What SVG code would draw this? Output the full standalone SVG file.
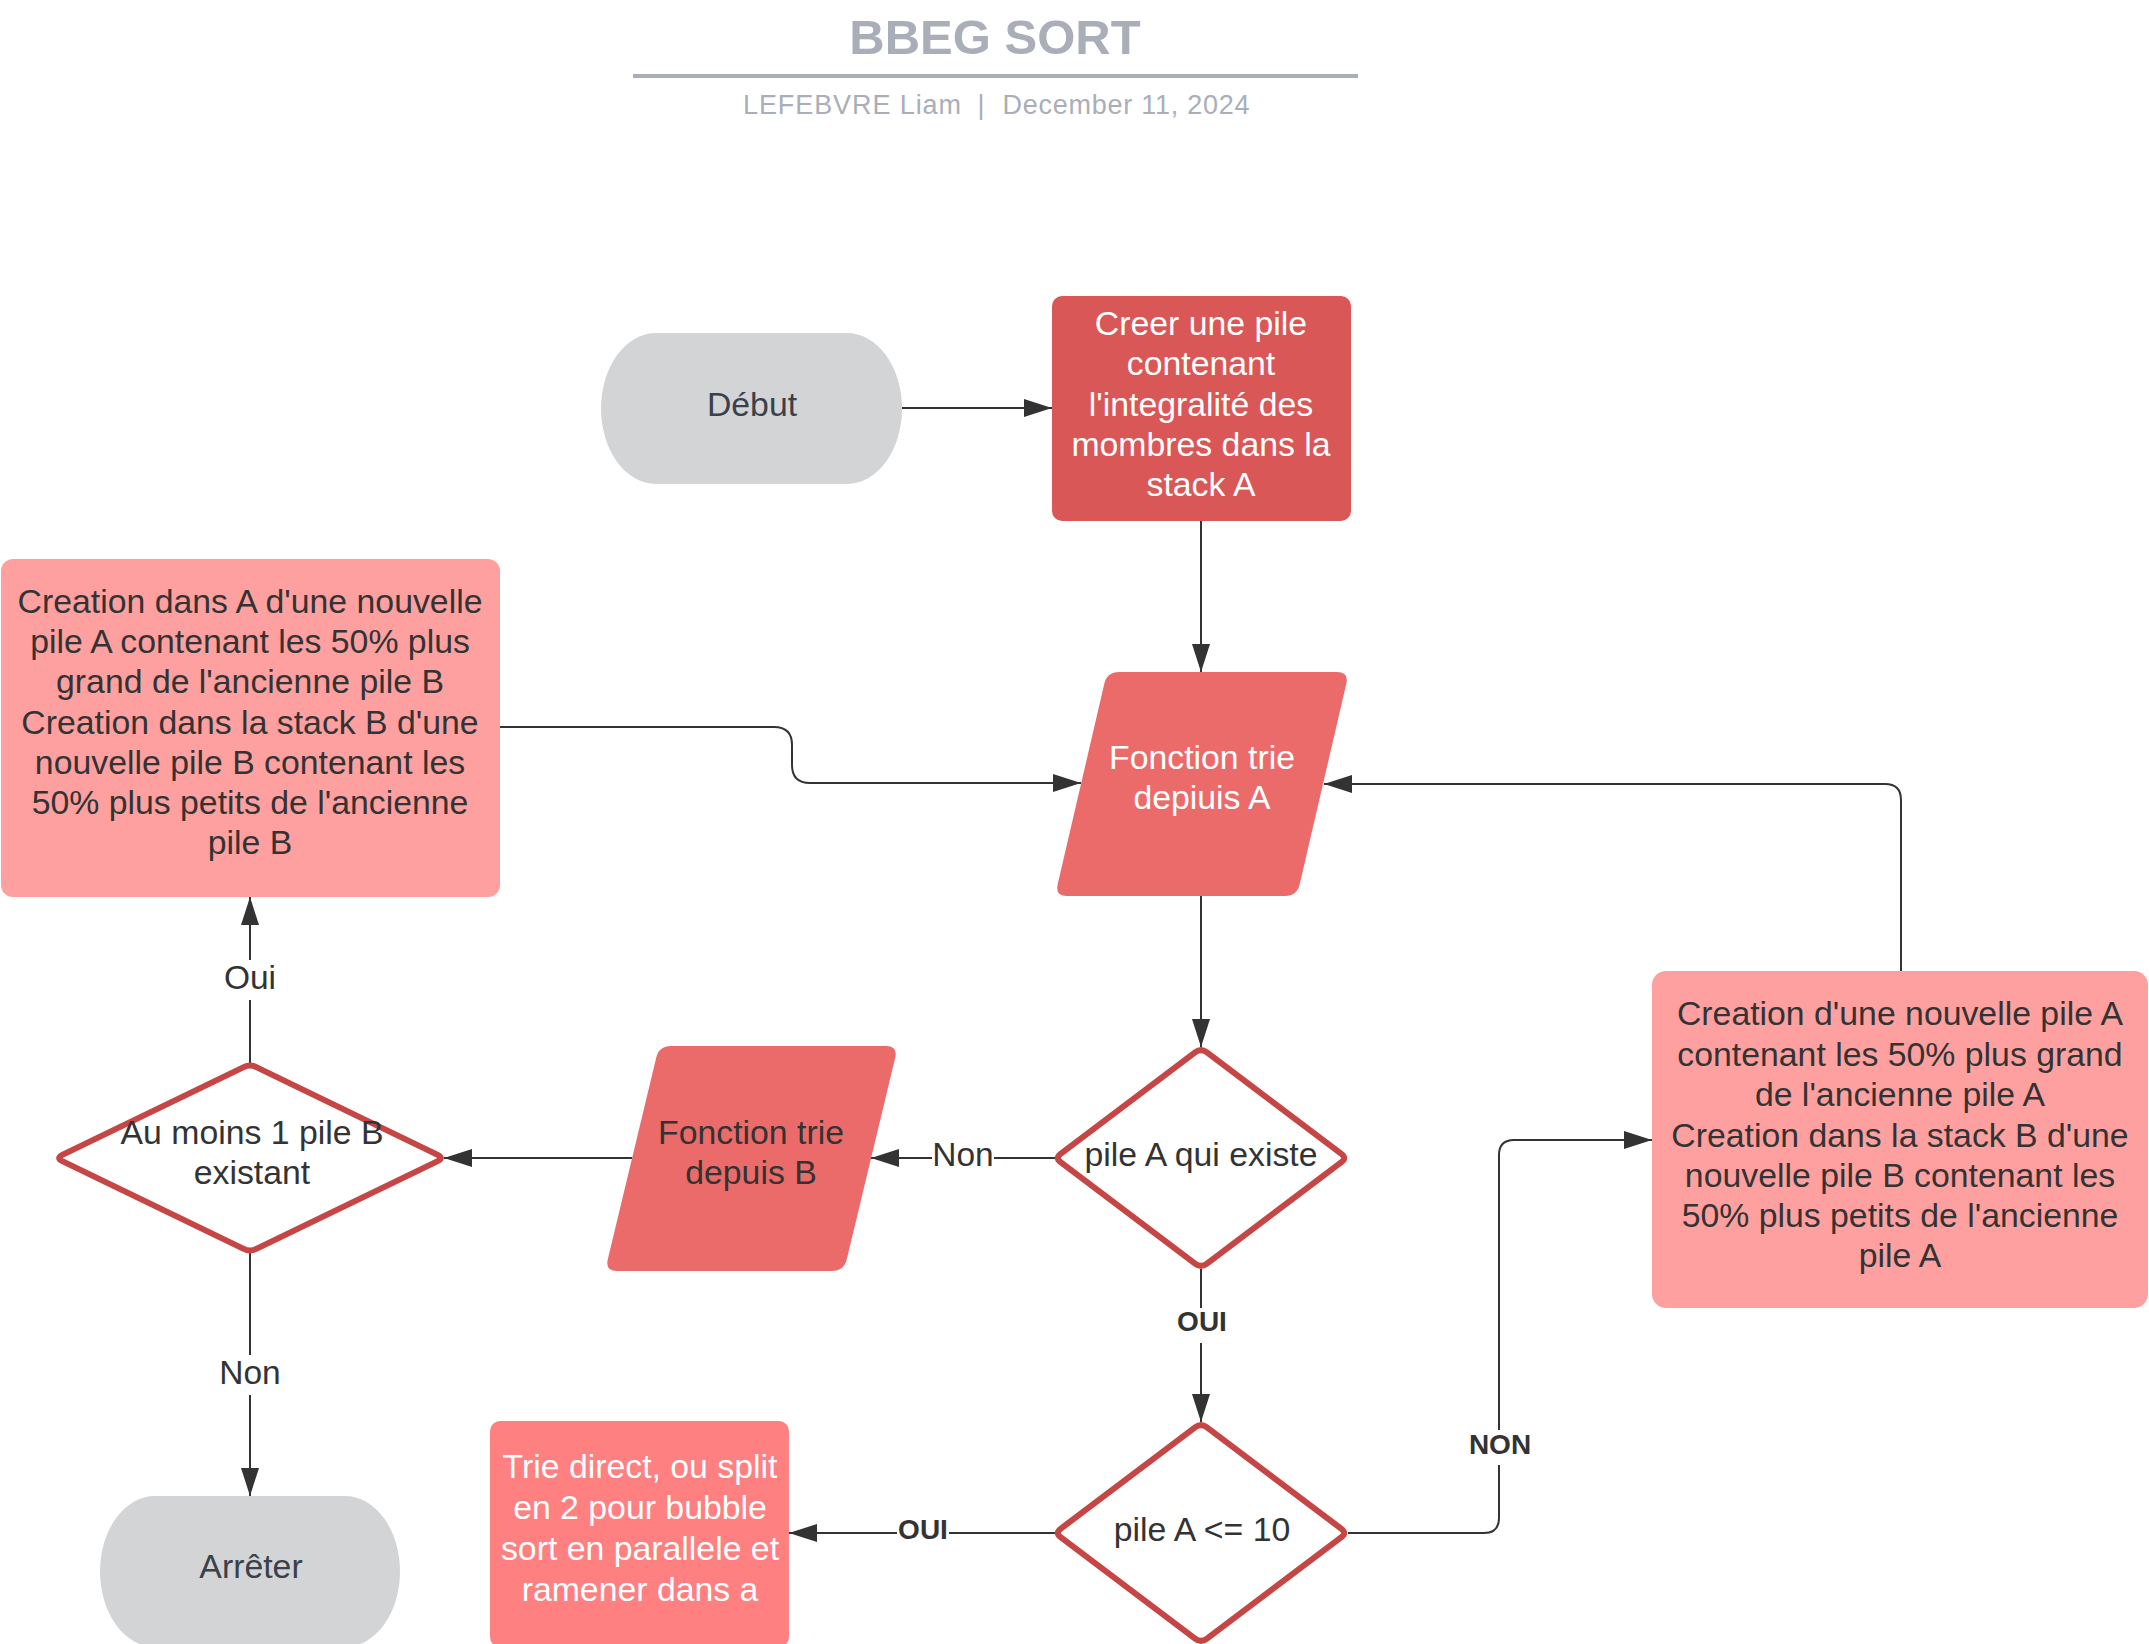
<svg xmlns="http://www.w3.org/2000/svg" width="2149" height="1644" viewBox="0 0 2149 1644">
<defs>
<marker id="arr" markerUnits="userSpaceOnUse" markerWidth="30" markerHeight="20" refX="28" refY="9" orient="auto">
<path d="M0,0 L28,9 L0,18 Z" fill="#333333"/>
</marker>
<style>
.t{font-family:"Liberation Sans",Arial,sans-serif;font-size:33.8px;text-anchor:middle;fill:#333333}
.w{fill:#ffffff}
.g{fill:#3a414a}
.lb{font-family:"Liberation Sans",Arial,sans-serif;font-size:33.5px;text-anchor:middle;fill:#333333}
.lbb{font-family:"Liberation Sans",Arial,sans-serif;font-size:28px;font-weight:bold;text-anchor:middle;fill:#333333}
.c{fill:none;stroke:#333333;stroke-width:2;marker-end:url(#arr)}
.dia{fill:#ffffff;stroke:#c64545;stroke-width:6;stroke-linejoin:round}
.bg{fill:#ffffff}
</style>
</defs>
<rect x="0" y="0" width="2149" height="1644" fill="#ffffff"/>

<g id="header">
<text x="995" y="54" font-family="Liberation Sans, Arial, sans-serif" font-size="49" font-weight="bold" text-anchor="middle" fill="#a9aeb8">BBEG SORT</text>
<line x1="633" y1="76" x2="1358" y2="76" stroke="#a9aeb8" stroke-width="4"/>
<text x="852" y="114" font-family="Liberation Sans, Arial, sans-serif" font-size="27" text-anchor="middle" fill="#a9aeb8" textLength="218">LEFEBVRE Liam</text>
<text x="981" y="114" font-family="Liberation Sans, Arial, sans-serif" font-size="27" text-anchor="middle" fill="#a9aeb8">|</text>
<text x="1126" y="114" font-family="Liberation Sans, Arial, sans-serif" font-size="27" text-anchor="middle" fill="#a9aeb8" textLength="247">December 11, 2024</text>
</g>

<g id="connectors">
<path class="c" d="M902,408 H1052"/>
<path class="c" d="M1201,521 V672"/>
<path class="c" d="M1201,896 V1047"/>
<path class="c" d="M1055,1158 H871"/>
<path class="c" d="M632,1158 H444"/>
<path class="c" d="M250,1064 V897"/>
<path class="c" d="M250,1252 V1496"/>
<path class="c" d="M1201,1269 V1422"/>
<path class="c" d="M1055,1533 H789"/>
<path class="c" d="M1348,1533 H1484 Q1499,1533 1499,1518 V1155 Q1499,1140 1514,1140 H1652"/>
<path class="c" d="M1901,971 V800 Q1901,784 1885,784 H1324"/>
<path class="c" d="M500,727 H774 Q792,727 792,745 V765 Q792,783 810,783 H1081"/>
<g id="labels">
<rect class="bg" x="222" y="960" width="56" height="40"/>
<text class="lb" x="250" y="989">Oui</text>
<rect class="bg" x="218" y="1355" width="64" height="40"/>
<text class="lb" x="250" y="1384">Non</text>
<rect class="bg" x="932" y="1140" width="62" height="34"/>
<text class="lb" x="963" y="1166">Non</text>
<rect class="bg" x="1170" y="1308" width="64" height="35"/>
<text class="lbb" x="1202" y="1331">OUI</text>
<rect class="bg" x="1466" y="1430" width="68" height="35"/>
<text class="lbb" x="1500" y="1454">NON</text>
<rect class="bg" x="897" y="1518" width="52" height="24"/>
<text class="lbb" x="923" y="1539">OUI</text>
</g>
</g>

<g id="debut">
<rect x="601" y="333" width="301" height="151" rx="55" ry="75.5" fill="#d3d4d6"/>
<text class="t g" x="752" y="416">Début</text>
</g>

<g id="creer">
<rect x="1052" y="296" width="299" height="225" rx="10" fill="#d95757"/>
<text class="t w" x="1201" y="335">Creer une pile</text>
<text class="t w" x="1201" y="375">contenant</text>
<text class="t w" x="1201" y="416">l'integralité des</text>
<text class="t w" x="1201" y="456">mombres dans la</text>
<text class="t w" x="1201" y="496">stack A</text>
</g>

<g id="creation-b">
<rect x="1" y="559" width="499" height="338" rx="12" fill="#ffa0a0"/>
<text class="t" x="250" y="613">Creation dans A d'une nouvelle</text>
<text class="t" x="250" y="653">pile A contenant les 50% plus</text>
<text class="t" x="250" y="693">grand de l'ancienne pile B</text>
<text class="t" x="250" y="734">Creation dans la stack B d'une</text>
<text class="t" x="250" y="774">nouvelle pile B contenant les</text>
<text class="t" x="250" y="814">50% plus petits de l'ancienne</text>
<text class="t" x="250" y="854">pile B</text>
</g>

<g id="fonction-a">
<path d="M1119,672 H1337 Q1349,672 1346.3,683.7 L1299.7,884.3 Q1297,896 1285,896 H1067 Q1055,896 1057.7,884.3 L1104.3,683.7 Q1107,672 1119,672 Z" fill="#eb6b6b"/>
<text class="t w" x="1202" y="769">Fonction trie</text>
<text class="t w" x="1202" y="809">depiuis A</text>
</g>

<g id="creation-a">
<rect x="1652" y="971" width="496" height="337" rx="14" fill="#ffa0a0"/>
<text class="t" x="1900" y="1025">Creation d'une nouvelle pile A</text>
<text class="t" x="1900" y="1066">contenant les 50% plus grand</text>
<text class="t" x="1900" y="1106">de l'ancienne pile A</text>
<text class="t" x="1900" y="1147">Creation dans la stack B d'une</text>
<text class="t" x="1900" y="1187">nouvelle pile B contenant les</text>
<text class="t" x="1900" y="1227">50% plus petits de l'ancienne</text>
<text class="t" x="1900" y="1267">pile A</text>
</g>

<g id="pile-a-existe">
<path class="dia" d="M1206.6,1052.2 L1341.4,1153.8 Q1347,1158 1341.4,1162.2 L1206.6,1263.8 Q1201,1268 1195.4,1263.8 L1060.6,1162.2 Q1055,1158 1060.6,1153.8 L1195.4,1052.2 Q1201,1048 1206.6,1052.2 Z"/>
<text class="t" x="1201" y="1166">pile A qui existe</text>
</g>

<g id="fonction-b">
<path d="M671,1046 H886 Q898,1046 895.2,1057.7 L846.8,1259.3 Q844,1271 832,1271 H617 Q605,1271 607.8,1259.3 L656.2,1057.7 Q659,1046 671,1046 Z" fill="#eb6b6b"/>
<text class="t" x="751" y="1144">Fonction trie</text>
<text class="t" x="751" y="1184">depuis B</text>
</g>

<g id="au-moins">
<path class="dia" d="M256.3,1067.1 L437.7,1154.9 Q444,1158 437.7,1161.1 L256.3,1248.9 Q250,1252 243.7,1248.9 L62.3,1161.1 Q56,1158 62.3,1154.9 L243.7,1067.1 Q250,1064 256.3,1067.1 Z"/>
<text class="t" x="252" y="1144">Au moins 1 pile B</text>
<text class="t" x="252" y="1184">existant</text>
</g>

<g id="arreter">
<rect x="100" y="1496" width="300" height="151" rx="55" ry="75.5" fill="#d3d4d6"/>
<text class="t g" x="251" y="1578">Arrêter</text>
</g>

<g id="pile-a-10">
<path class="dia" d="M1206.6,1427.2 L1341.4,1528.8 Q1347,1533 1341.4,1537.2 L1206.6,1638.8 Q1201,1643 1195.4,1638.8 L1060.6,1537.2 Q1055,1533 1060.6,1528.8 L1195.4,1427.2 Q1201,1423 1206.6,1427.2 Z"/>
<text class="t" x="1202" y="1541">pile A &lt;= 10</text>
</g>

<g id="trie-direct">
<rect x="490" y="1421" width="299" height="226" rx="10" fill="#ff8080"/>
<text class="t w" x="640" y="1478">Trie direct, ou split</text>
<text class="t w" x="640" y="1519">en 2 pour bubble</text>
<text class="t w" x="640" y="1560">sort en parallele et</text>
<text class="t w" x="640" y="1601">ramener dans a</text>
</g>
</svg>
